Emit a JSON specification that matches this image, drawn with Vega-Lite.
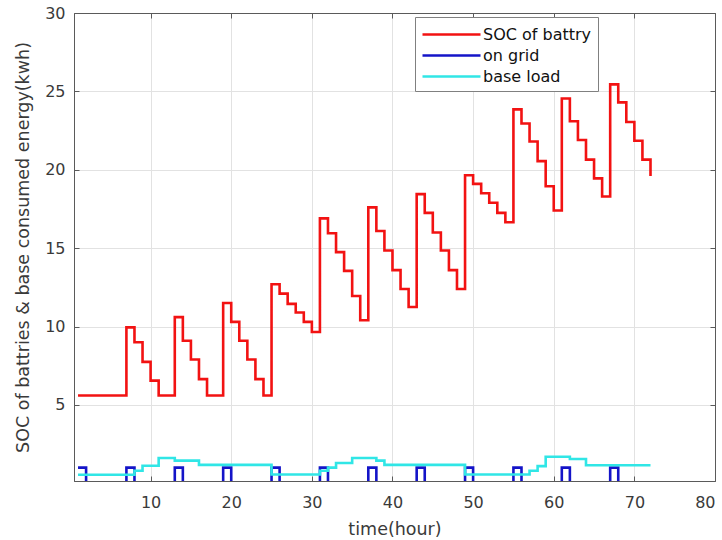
{
  "$schema": "https://vega.github.io/schema/vega-lite/v6.json",
  "width": 641,
  "height": 468,
  "autosize": {"type": "none"},
  "padding": {"left": 74, "top": 13, "right": 7, "bottom": 59},
  "background": "white",
  "config": {
    "font": "DejaVu Sans",
    "view": {"stroke": "#5a5a5a", "strokeWidth": 1},
    "axis": {
      "labelFont": "DejaVu Sans",
      "labelFontSize": 16,
      "labelColor": "#3a3a3a",
      "titleFont": "DejaVu Sans",
      "titleFontSize": 17.5,
      "titleFontWeight": "normal",
      "titleColor": "#3a3a3a",
      "gridColor": "#e2e2e2",
      "gridWidth": 1,
      "domainColor": "#5a5a5a",
      "tickColor": "#5a5a5a",
      "tickSize": -5
    },
    "legend": {
      "orient": "none",
      "legendX": 341,
      "legendY": 4,
      "padding": 6,
      "strokeColor": "#808080",
      "fillColor": "white",
      "labelFont": "DejaVu Sans",
      "labelFontSize": 16,
      "labelColor": "#111111",
      "rowPadding": 1
    }
  },
  "data": {
    "values": [
      {"t": 1, "soc": 5.6, "grid": 1, "base": 0.55},
      {"t": 2, "soc": 5.6, "grid": 0, "base": 0.55},
      {"t": 3, "soc": 5.6, "grid": 0, "base": 0.55},
      {"t": 4, "soc": 5.6, "grid": 0, "base": 0.55},
      {"t": 5, "soc": 5.6, "grid": 0, "base": 0.55},
      {"t": 6, "soc": 5.6, "grid": 0, "base": 0.55},
      {"t": 7, "soc": 9.95, "grid": 1, "base": 0.55},
      {"t": 8, "soc": 9.0, "grid": 0, "base": 0.8},
      {"t": 9, "soc": 7.75, "grid": 0, "base": 1.12},
      {"t": 10, "soc": 6.55, "grid": 0, "base": 1.12},
      {"t": 11, "soc": 5.6, "grid": 0, "base": 1.62},
      {"t": 12, "soc": 5.6, "grid": 0, "base": 1.62},
      {"t": 13, "soc": 10.6, "grid": 1, "base": 1.45},
      {"t": 14, "soc": 9.1, "grid": 0, "base": 1.45},
      {"t": 15, "soc": 7.9, "grid": 0, "base": 1.45},
      {"t": 16, "soc": 6.65, "grid": 0, "base": 1.18},
      {"t": 17, "soc": 5.6, "grid": 0, "base": 1.18},
      {"t": 18, "soc": 5.6, "grid": 0, "base": 1.18},
      {"t": 19, "soc": 11.5, "grid": 1, "base": 1.18},
      {"t": 20, "soc": 10.3, "grid": 0, "base": 1.18},
      {"t": 21, "soc": 9.1, "grid": 0, "base": 1.18},
      {"t": 22, "soc": 7.9, "grid": 0, "base": 1.18},
      {"t": 23, "soc": 6.65, "grid": 0, "base": 1.18},
      {"t": 24, "soc": 5.6, "grid": 0, "base": 1.18},
      {"t": 25, "soc": 12.7, "grid": 1, "base": 0.56},
      {"t": 26, "soc": 12.1, "grid": 0, "base": 0.56},
      {"t": 27, "soc": 11.45, "grid": 0, "base": 0.56},
      {"t": 28, "soc": 10.9, "grid": 0, "base": 0.56},
      {"t": 29, "soc": 10.3, "grid": 0, "base": 0.56},
      {"t": 30, "soc": 9.65, "grid": 0, "base": 0.56},
      {"t": 31, "soc": 16.9, "grid": 1, "base": 0.8},
      {"t": 32, "soc": 15.95, "grid": 0, "base": 1.0},
      {"t": 33, "soc": 14.75, "grid": 0, "base": 1.3},
      {"t": 34, "soc": 13.55, "grid": 0, "base": 1.3},
      {"t": 35, "soc": 11.95, "grid": 0, "base": 1.62},
      {"t": 36, "soc": 10.4, "grid": 0, "base": 1.62},
      {"t": 37, "soc": 17.6, "grid": 1, "base": 1.62},
      {"t": 38, "soc": 16.1, "grid": 0, "base": 1.45},
      {"t": 39, "soc": 14.85, "grid": 0, "base": 1.18},
      {"t": 40, "soc": 13.6, "grid": 0, "base": 1.18},
      {"t": 41, "soc": 12.4, "grid": 0, "base": 1.18},
      {"t": 42, "soc": 11.25, "grid": 0, "base": 1.18},
      {"t": 43, "soc": 18.45, "grid": 1, "base": 1.18},
      {"t": 44, "soc": 17.25, "grid": 0, "base": 1.18},
      {"t": 45, "soc": 16.0, "grid": 0, "base": 1.18},
      {"t": 46, "soc": 14.85, "grid": 0, "base": 1.18},
      {"t": 47, "soc": 13.6, "grid": 0, "base": 1.18},
      {"t": 48, "soc": 12.4, "grid": 0, "base": 1.18},
      {"t": 49, "soc": 19.65, "grid": 1, "base": 0.56},
      {"t": 50, "soc": 19.1, "grid": 0, "base": 0.56},
      {"t": 51, "soc": 18.5, "grid": 0, "base": 0.56},
      {"t": 52, "soc": 17.9, "grid": 0, "base": 0.56},
      {"t": 53, "soc": 17.25, "grid": 0, "base": 0.56},
      {"t": 54, "soc": 16.65, "grid": 0, "base": 0.56},
      {"t": 55, "soc": 23.85, "grid": 1, "base": 0.56},
      {"t": 56, "soc": 22.95, "grid": 0, "base": 0.56},
      {"t": 57, "soc": 21.8, "grid": 0, "base": 0.8},
      {"t": 58, "soc": 20.55, "grid": 0, "base": 1.1},
      {"t": 59, "soc": 18.95, "grid": 0, "base": 1.7},
      {"t": 60, "soc": 17.4, "grid": 0, "base": 1.7},
      {"t": 61, "soc": 24.55, "grid": 1, "base": 1.7},
      {"t": 62, "soc": 23.1, "grid": 0, "base": 1.55},
      {"t": 63, "soc": 21.9, "grid": 0, "base": 1.55},
      {"t": 64, "soc": 20.65, "grid": 0, "base": 1.15},
      {"t": 65, "soc": 19.45, "grid": 0, "base": 1.15},
      {"t": 66, "soc": 18.3, "grid": 0, "base": 1.15},
      {"t": 67, "soc": 25.45, "grid": 1, "base": 1.15},
      {"t": 68, "soc": 24.3, "grid": 0, "base": 1.15},
      {"t": 69, "soc": 23.05, "grid": 0, "base": 1.15},
      {"t": 70, "soc": 21.85, "grid": 0, "base": 1.15},
      {"t": 71, "soc": 20.65, "grid": 0, "base": 1.15},
      {"t": 72, "soc": 19.6, "grid": 0, "base": 1.15}
    ]
  },
  "layer": [
    {
      "mark": {"type": "line", "interpolate": "step-after", "strokeWidth": 2.6, "clip": true},
      "encoding": {
        "x": {
          "field": "t", "type": "quantitative",
          "scale": {"domain": [0.5, 80], "nice": false, "zero": false},
          "axis": {"orient": "bottom", "values": [10, 20, 30, 40, 50, 60, 70, 80], "title": "time(hour)", "grid": true, "labelPadding": 18, "titlePadding": 10}
        },
        "y": {
          "field": "soc", "type": "quantitative",
          "scale": {"domain": [0.15, 30], "nice": false, "zero": false},
          "axis": {"orient": "left", "values": [5, 10, 15, 20, 25, 30], "title": "SOC of battries & base consumed energy(kwh)", "grid": true, "labelPadding": 14, "titlePadding": 12}
        },
        "color": {
          "datum": "SOC of battry",
          "type": "nominal",
          "scale": {"domain": ["SOC of battry", "\u00a0on grid", "base load"], "range": ["#f21212", "#1414c8", "#30e6e6"]},
          "legend": {"title": null, "symbolType": "M-2.9,0H2.9", "symbolSize": 400, "symbolStrokeWidth": 2.6, "symbolOffset": 19, "labelOffset": 20}
        }
      }
    },
    {
      "mark": {"type": "line", "interpolate": "step-after", "strokeWidth": 2.6, "clip": true},
      "encoding": {
        "x": {"field": "t", "type": "quantitative", "axis": {"orient": "top", "values": [10, 20, 30, 40, 50, 60, 70, 80], "labels": false, "title": null, "grid": false}},
        "y": {"field": "grid", "type": "quantitative", "axis": {"orient": "right", "values": [5, 10, 15, 20, 25, 30], "labels": false, "title": null, "grid": false}},
        "color": {"datum": "\u00a0on grid", "type": "nominal"}
      }
    },
    {
      "mark": {"type": "line", "interpolate": "step-after", "strokeWidth": 2.6, "clip": true},
      "encoding": {
        "x": {"field": "t", "type": "quantitative", "axis": null},
        "y": {"field": "base", "type": "quantitative", "axis": null},
        "color": {"datum": "base load", "type": "nominal"}
      }
    }
  ],
  "resolve": {"axis": {"x": "independent", "y": "independent"}}
}
